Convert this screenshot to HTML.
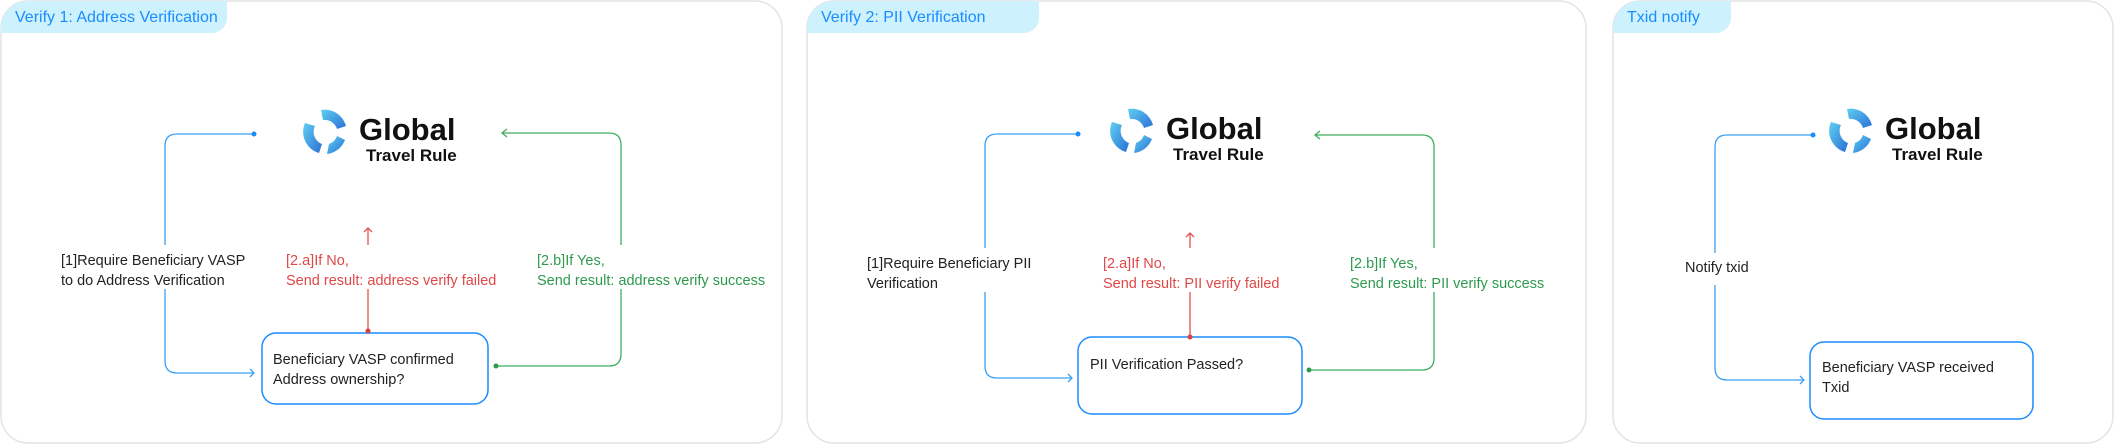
<!DOCTYPE html>
<html><head><meta charset="utf-8"><style>
html,body{margin:0;padding:0;background:#fff;width:2115px;height:445px;overflow:hidden}
svg{display:block}
text{font-family:"Liberation Sans",sans-serif}
</style></head><body>
<svg width="2115" height="445" viewBox="0 0 2115 445" xmlns="http://www.w3.org/2000/svg">
<defs>
<linearGradient id="lg" x1="0" y1="0" x2="1" y2="1">
<stop offset="0" stop-color="#5fd0f0"/><stop offset="1" stop-color="#2a6fd6"/></linearGradient>
<g id="logo">
<path d="M-4,-22 A22,22 0 0 1 21,-6 L12,-3 A13,13 0 0 0 -2,-12 Z" fill="url(#lg)"/>
<path d="M-20,-9 A22,22 0 0 0 -6,21 L-3,12 A13,13 0 0 1 -10,-6 Z" fill="url(#lg)"/>
<path d="M20,8 A22,22 0 0 1 2,22 L4,12 A13,13 0 0 0 12,4 Z" fill="url(#lg)"/>
<text x="34" y="8" font-size="31" font-weight="bold" fill="#111">Global</text>
<text x="41" y="29" font-size="17" font-weight="bold" fill="#111">Travel Rule</text>
</g>
</defs>
<g fill="#fff" stroke="#e4e4e4" stroke-width="1.5">
<rect x="1" y="1" width="781" height="442" rx="27"/>
<rect x="807" y="1" width="779" height="442" rx="27"/>
<rect x="1613" y="1" width="500" height="442" rx="27"/>
</g>
<g fill="#cdf1fd">
<path d="M1,28 A27,27 0 0 1 28,1 L227,1 L227,18 A15,15 0 0 1 212,33 L1,33 Z"/>
<path d="M807,28 A27,27 0 0 1 834,1 L1039,1 L1039,18 A15,15 0 0 1 1024,33 L807,33 Z"/>
<path d="M1613,28 A27,27 0 0 1 1640,1 L1731,1 L1731,18 A15,15 0 0 1 1716,33 L1613,33 Z"/>
</g>
<g font-size="16" fill="#1a8cff">
<text x="15" y="22">Verify 1: Address Verification</text>
<text x="821" y="22">Verify 2: PII Verification</text>
<text x="1627" y="22">Txid notify</text>
</g>
<use href="#logo" transform="translate(325,132)"/>
<use href="#logo" transform="translate(1132,131)"/>
<use href="#logo" transform="translate(1851,131)"/>

<!-- Panel 1 -->
<g fill="none" stroke-width="1.3">
<path d="M254,134 L177,134 Q165,134 165,146 L165,361 Q165,373 177,373 L254,373" stroke="#3aa0f5"/>
<path d="M502,133 L609,133 Q621,133 621,145 L621,354 Q621,366 609,366 L496,366" stroke="#3fae5e"/>
<path d="M368,228 L368,331" stroke="#e05050"/>
<path d="M250,369 L254,373 L250,377" stroke="#3aa0f5"/>
<path d="M507,129 L502,133 L507,137" stroke="#3fae5e"/>
<path d="M364,232 L368,228 L372,232" stroke="#e05050"/>
<rect x="262" y="333" width="226" height="71" rx="14" stroke="#1a8cff" stroke-width="1.5" fill="#fff"/>
</g>
<circle cx="254" cy="134" r="2.5" fill="#1a8cff"/><circle cx="496" cy="366" r="2.5" fill="#2e9a4e"/><circle cx="368" cy="331" r="2.5" fill="#d94040"/>
<rect x="58" y="245" width="198" height="44" fill="#fff"/>
<rect x="282" y="245" width="232" height="44" fill="#fff"/>
<rect x="533" y="245" width="240" height="44" fill="#fff"/>
<g font-size="14.5">
<text x="61" y="265" fill="#222">[1]Require Beneficiary VASP</text>
<text x="61" y="285" fill="#222">to do Address Verification</text>
<text x="286" y="265" fill="#e04848">[2.a]If No,</text>
<text x="286" y="285" fill="#e04848">Send result: address verify failed</text>
<text x="537" y="265" fill="#2e9a4e">[2.b]If Yes,</text>
<text x="537" y="285" fill="#2e9a4e">Send result: address verify success</text>
<text x="273" y="364" fill="#222">Beneficiary VASP confirmed</text>
<text x="273" y="384" fill="#222">Address ownership?</text>
</g>

<!-- Panel 2 -->
<g fill="none" stroke-width="1.3">
<path d="M1078,134 L997,134 Q985,134 985,146 L985,366 Q985,378 997,378 L1072,378" stroke="#3aa0f5"/>
<path d="M1315,135 L1422,135 Q1434,135 1434,147 L1434,358 Q1434,370 1422,370 L1309,370" stroke="#3fae5e"/>
<path d="M1190,233 L1190,337" stroke="#e05050"/>
<path d="M1068,374 L1072,378 L1068,382" stroke="#3aa0f5"/>
<path d="M1320,131 L1315,135 L1320,139" stroke="#3fae5e"/>
<path d="M1186,237 L1190,233 L1194,237" stroke="#e05050"/>
<rect x="1078" y="337" width="224" height="77" rx="14" stroke="#1a8cff" stroke-width="1.5" fill="#fff"/>
</g>
<circle cx="1078" cy="134" r="2.5" fill="#1a8cff"/><circle cx="1309" cy="370" r="2.5" fill="#2e9a4e"/><circle cx="1190" cy="337" r="2.5" fill="#d94040"/>
<rect x="864" y="248" width="170" height="44" fill="#fff"/>
<rect x="1099" y="248" width="195" height="44" fill="#fff"/>
<rect x="1346" y="248" width="210" height="44" fill="#fff"/>
<g font-size="14.5">
<text x="867" y="268" fill="#222">[1]Require Beneficiary PII</text>
<text x="867" y="288" fill="#222">Verification</text>
<text x="1103" y="268" fill="#e04848">[2.a]If No,</text>
<text x="1103" y="288" fill="#e04848">Send result: PII verify failed</text>
<text x="1350" y="268" fill="#2e9a4e">[2.b]If Yes,</text>
<text x="1350" y="288" fill="#2e9a4e">Send result: PII verify success</text>
<text x="1090" y="369" fill="#222">PII Verification Passed?</text>
</g>

<!-- Panel 3 -->
<g fill="none" stroke-width="1.3">
<path d="M1813,135 L1727,135 Q1715,135 1715,147 L1715,368 Q1715,380 1727,380 L1804,380" stroke="#3aa0f5"/>
<path d="M1800,376 L1804,380 L1800,384" stroke="#3aa0f5"/>
<rect x="1810" y="342" width="223" height="77" rx="14" stroke="#1a8cff" stroke-width="1.5" fill="#fff"/>
</g>
<circle cx="1813" cy="135" r="2.5" fill="#1a8cff"/>
<rect x="1682" y="253" width="82" height="32" fill="#fff"/>
<g font-size="14.5" fill="#222">
<text x="1685" y="272">Notify txid</text>
<text x="1822" y="372">Beneficiary VASP received</text>
<text x="1822" y="392">Txid</text>
</g>
</svg>
</body></html>
